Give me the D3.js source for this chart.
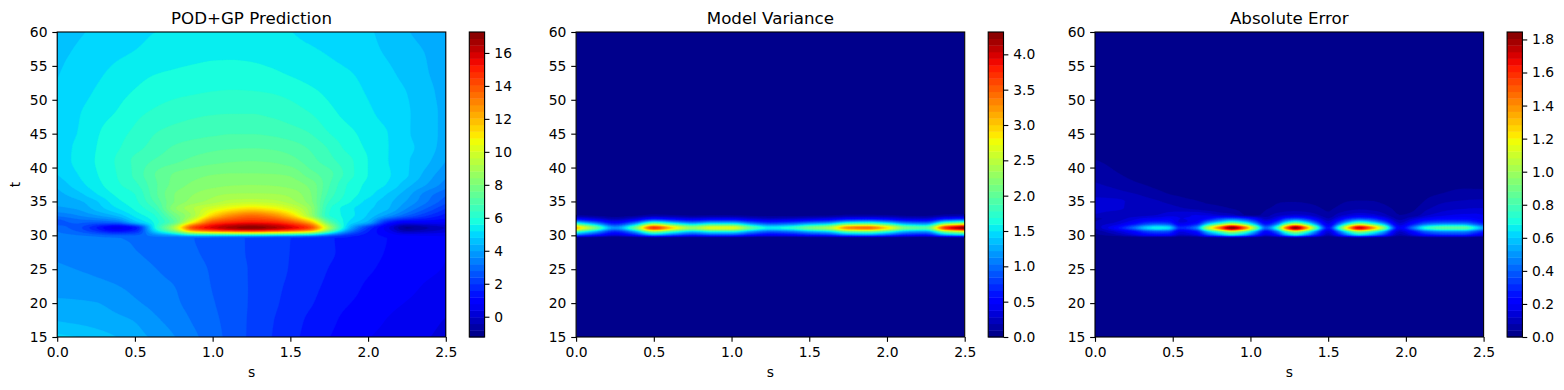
<!DOCTYPE html>
<html><head><meta charset="utf-8">
<script src="https://cdn.jsdelivr.net/npm/d3@7"></script>
<style>
html,body{margin:0;padding:0;background:#fff}
svg{display:block}
text{font-family:"DejaVu Sans",sans-serif;fill:#000}
</style></head><body><div id="chart"></div>
<script>
const titles = ["POD+GP Prediction", "Model Variance", "Absolute Error"];
const xTicks = [0, 0.5, 1, 1.5, 2, 2.5];
const yTicks = [15, 20, 25, 30, 35, 40, 45, 50, 55, 60];
const predBarTicks = [0, 2, 4, 6, 8, 10, 12, 14, 16];
const varBarTicks = [0, 0.5, 1, 1.5, 2, 2.5, 3, 3.5, 4];
const errBarTicks = [0, 0.2, 0.4, 0.6, 0.8, 1, 1.2, 1.4, 1.6, 1.8];
const predRange = [-1.23, 17.27];
const varRange = [0, 4.316];
const errRange = [0, 1.845];

const sGrid = [0,.125,.25,.375,.5,.625,.75,.875,1,1.125,1.25,1.375,1.5,1.625,1.75,1.875,2,2.125,2.25,2.375,2.5];
const errS = [0,.12,.25,.33,.4,.47,.55,.65,.72,.8,.88,.96,1.03,1.1,1.17,1.23,1.29,1.36,1.42,1.5,1.57,1.63,1.7,1.78,1.85,1.96,2.05,2.13,2.25,2.37,2.45,2.5];

const predT = [15,17.5,20,22.5,25,27.5,29.6,31.1,32,33,34,35,36,37.5,39,41,43,45,48,51,54,57,60];
const predZ = [
[4.9,4.8,4.6,4.41,4.17,3.91,3.62,3.29,2.96,2.63,2.3,2,1.71,1.45,1.19,1,.8,.66,.53,.4,.3],
[4.37,4.3,4.22,4.11,3.97,3.68,3.43,3.15,2.88,2.63,2.31,2.03,1.77,1.51,1.29,1.06,.94,.76,.6,.48,.36],
[4.07,4.05,4.01,3.86,3.66,3.47,3.27,3.05,2.82,2.59,2.34,2.09,1.85,1.63,1.41,1.2,1.06,.9,.76,.65,.52],
[3.85,3.8,3.72,3.62,3.48,3.33,3.2,3,2.77,2.56,2.35,2.12,1.91,1.7,1.5,1.31,1.13,1,.88,.74,.6],
[3.67,3.59,3.51,3.42,3.32,3.21,3.07,2.93,2.74,2.55,2.35,2.17,1.96,1.76,1.57,1.38,1.23,1.1,.98,.87,.75],
[3.5,3.44,3.37,3.3,3.21,3.11,3,2.84,2.68,2.51,2.33,2.15,1.98,1.78,1.64,1.46,1.29,1.16,1.04,.92,.8],
[3.4,3.36,3.3,3.22,3.13,3.05,2.93,2.8,2.65,2.5,2.33,2.15,1.99,1.8,1.63,1.47,1.32,1.18,1.06,.95,.85],
[3,2.6,1.6,.6,1.3,5.5,9,14.3,15.8,16.7,17.2,16.7,15.8,14.3,9,4.5,2,.5,-.9,-.5,0],
[2.6,2.9,2.9,3.1,4.6,5.7,7.2,10.6,13.8,14.6,14.9,14.7,13.8,11.8,7.2,5.2,4.3,1.8,.9,.9,.85],
[3.3,3.6,4,4.5,5.35,6,7.7,9,11.3,12.7,13.3,12.8,11.4,8.8,6,5.4,4.75,3.9,2.9,2.1,1.45],
[3.9,4.05,4.55,5.15,5.7,6.45,8.3,9.2,10,10.7,11.1,10.75,9.9,8.6,6.1,5.35,4.9,4.45,3.6,2.8,2],
[4.12,4.3,4.75,5.45,5.9,6.85,8,8.6,9,9.4,9.5,9.4,9,8.2,6.4,5.7,5.05,4.55,3.95,3.25,2.55],
[4.25,4.6,5.15,5.65,6,7.05,8,8.42,8.72,8.88,8.9,8.88,8.72,8.1,6.65,5.85,5.35,4.75,4.15,3.4,2.85],
[4.5,5,5.45,5.9,6.3,7.1,7.75,8.1,8.27,8.37,8.4,8.37,8.25,7.9,6.85,5.95,5.5,5.17,4.55,4,3.4],
[4.8,5.18,5.57,5.98,6.5,7.2,7.65,7.87,8,8.05,8.05,8.03,7.95,7.4,6.95,6.2,5.6,5.27,4.85,4.25,3.7],
[4.95,5.3,5.63,6.03,6.5,6.85,7.1,7.33,7.48,7.57,7.6,7.56,7.38,7,6.55,6.13,5.6,5.22,4.85,4.5,4],
[5,5.27,5.6,5.92,6.25,6.57,6.85,7,7.1,7.16,7.18,7.14,7.02,6.75,6.35,5.85,5.53,5.22,4.92,4.6,4.2],
[5.03,5.2,5.55,5.85,6.1,6.4,6.58,6.68,6.75,6.8,6.8,6.75,6.62,6.42,6.02,5.72,5.45,5.21,4.86,4.55,4.3],
[4.95,5.15,5.42,5.62,5.9,6.08,6.22,6.32,6.38,6.4,6.4,6.33,6.2,6.02,5.72,5.47,5.28,5.05,4.85,4.55,4.3],
[4.87,5.03,5.25,5.45,5.65,5.82,5.92,5.98,6.03,6.05,6.04,6,5.9,5.72,5.52,5.36,5.17,4.98,4.8,4.52,4.25],
[4.77,4.97,5.12,5.3,5.45,5.58,5.65,5.72,5.77,5.8,5.77,5.68,5.55,5.43,5.33,5.23,5.07,4.88,4.67,4.43,4.2],
[4.68,4.85,4.98,5.12,5.22,5.32,5.4,5.45,5.5,5.5,5.47,5.4,5.3,5.26,5.17,5.05,4.92,4.75,4.55,4.38,4.18],
[4.58,4.74,4.87,5,5.1,5.2,5.24,5.27,5.3,5.3,5.28,5.25,5.21,5.12,5,4.93,4.85,4.65,4.43,4.25,4.08]
];

const varT = [15,29.6,30.1,30.6,31.1,31.6,32,32.5,33,33.6,60];
const varZ = [
[0,0,0,0,0,0,0,0,0,0,0,0,0,0,0,0,0,0,0,0,0],
[0,0,0,0,0,0,0,0,0,0,0,0,0,0,0,0,0,0,0,0,0],
[1.02,.69,.38,.66,1.22,.96,.76,.89,.89,.66,.51,.56,.69,.79,1.09,1.14,.96,.69,.64,1.22,1.42],
[1.92,1.3,.71,1.24,2.29,1.8,1.43,1.67,1.67,1.24,.96,1.05,1.3,1.49,2.05,2.14,1.8,1.3,1.21,2.29,2.67],
[3.1,2.1,1.15,2,3.7,2.9,2.3,2.7,2.7,2,1.55,1.7,2.1,2.4,3.3,3.45,2.9,2.1,1.95,3.7,4.3],
[2.02,1.37,.75,1.3,2.41,1.89,1.5,1.76,1.76,1.3,1.01,1.11,1.37,1.56,2.15,2.24,1.89,1.37,1.27,2.41,2.8],
[1.18,.8,.44,.76,1.41,1.1,.87,1.03,1.03,.76,.59,.65,.8,.91,1.25,1.31,1.1,.8,.74,1.41,1.63],
[.43,.29,.16,.28,.52,.41,.32,.38,.38,.28,.22,.24,.29,.34,.46,.48,.41,.29,.27,.52,.6],
[.09,.06,.03,.06,.11,.09,.07,.08,.08,.06,.05,.05,.06,.07,.1,.1,.09,.06,.06,.11,.13],
[.02,.02,.01,.02,.02,.02,.02,.02,.02,.02,.01,.01,.02,.02,.02,.02,.02,.02,.02,.02,.03],
[0,0,0,0,0,0,0,0,0,0,0,0,0,0,0,0,0,0,0,0,0]
];

const errT = [15,29.6,30.1,30.6,31.1,31.6,32,32.5,33,34,35,36,37.5,39,41,43,60];
const errZ = [
[0,0,0,0,0,0,0,0,0,0,0,0,0,0,0,0,0,0,0,0,0,0,0,0,0,0,0,0,0,0,0,0],
[0,0,0,0,0,0,0,0,0,0,0,0,0,0,0,0,0,0,0,0,0,0,0,0,0,0,0,0,0,0,0,0],
[.03,.07,.15,.22,.24,.23,.11,.16,.36,.52,.66,.54,.34,.15,.27,.52,.66,.5,.31,.09,.27,.47,.62,.51,.36,.07,.16,.26,.31,.31,.23,.18],
[.05,.12,.24,.35,.39,.37,.17,.26,.58,.84,1.07,.87,.55,.24,.44,.84,1.06,.81,.49,.15,.44,.75,1,.82,.58,.12,.26,.42,.49,.49,.38,.29],
[.08,.2,.42,.6,.68,.64,.3,.45,1,1.45,1.84,1.5,.95,.42,.75,1.45,1.82,1.4,.85,.25,.75,1.3,1.72,1.42,1,.2,.45,.72,.85,.85,.65,.5],
[.1,.14,.27,.38,.43,.4,.2,.29,.62,.89,1.12,.92,.59,.27,.47,.89,1.11,.86,.53,.17,.47,.8,1.05,.87,.62,.14,.29,.45,.53,.53,.41,.32],
[.08,.11,.19,.26,.28,.27,.15,.2,.4,.56,.7,.58,.38,.18,.31,.56,.69,.54,.34,.13,.31,.5,.66,.55,.38,.1,.2,.3,.34,.34,.28,.22],
[.075,.09,.14,.17,.18,.2,.16,.17,.22,.32,.36,.3,.2,.1,.17,.3,.34,.28,.18,.08,.17,.28,.33,.3,.2,.06,.12,.18,.22,.22,.2,.18],
[.115,.095,.1,.11,.12,.14,.15,.16,.15,.12,.1,.04,.03,.06,.1,.12,.13,.12,.09,.05,.1,.13,.16,.14,.1,.04,.05,.11,.15,.17,.17,.16],
[.14,.13,.11,.1,.1,.1,.085,.065,.055,.048,.038,.028,.02,.035,.05,.06,.06,.055,.048,.032,.05,.065,.07,.065,.055,.03,.035,.07,.105,.115,.12,.12],
[.135,.13,.11,.095,.085,.07,.055,.043,.035,.03,.022,.012,.005,.02,.035,.038,.038,.035,.03,.012,.03,.04,.043,.042,.033,.012,.018,.045,.075,.085,.09,.09],
[.11,.1,.085,.07,.055,.042,.035,.025,.02,.015,.01,.005,.002,.005,.01,.012,.012,.01,.008,.002,.008,.015,.018,.015,.01,.002,.005,.03,.045,.055,.055,.055],
[.085,.07,.047,.038,.03,.025,.02,.012,.01,.005,.002,0,0,0,0,0,0,0,0,0,0,0,0,0,0,0,0,.01,.025,.03,.03,.03],
[.065,.046,.03,.024,.02,.015,.01,.005,.002,0,0,0,0,0,0,0,0,0,0,0,0,0,0,0,0,0,0,0,0,0,0,0],
[.042,.03,.018,.012,.008,.005,.002,0,0,0,0,0,0,0,0,0,0,0,0,0,0,0,0,0,0,0,0,0,0,0,0,0],
[.02,.012,.006,.003,0,0,0,0,0,0,0,0,0,0,0,0,0,0,0,0,0,0,0,0,0,0,0,0,0,0,0,0],
[0,0,0,0,0,0,0,0,0,0,0,0,0,0,0,0,0,0,0,0,0,0,0,0,0,0,0,0,0,0,0,0]
];

const BANDS = 46, FINE = 6;
const W = 1564, H = 390, TOP = 32, BOTTOM = 337, AW = 388.6, CW = 15.3;
const axLeft = [57.2, 576.1, 1095];
const barLeft = [469.3, 988.2, 1507.1];
const FS = 13.89, TS = 16.67, TICK = 4.86, LW = 1.11;

const jetR = d3.scaleLinear().domain([0,.35,.66,.89,1]).range([0,0,1,1,.5]).clamp(true);
const jetG = d3.scaleLinear().domain([0,.125,.375,.64,.91,1]).range([0,0,1,1,0,0]).clamp(true);
const jetB = d3.scaleLinear().domain([0,.11,.34,.65,1]).range([.5,1,1,0,0]).clamp(true);
const jet = n => d3.rgb(jetR(n)*255, jetG(n)*255, jetB(n)*255).formatHex();

// Rendering helper: a smooth monotone curve through one row or column of the read values.
function monotone(xs, ys, outX) {
  const n = xs.length, h = [], d = [], m = new Array(n);
  for (let i = 0; i < n - 1; i++) { h[i] = xs[i+1]-xs[i]; d[i] = (ys[i+1]-ys[i])/h[i]; }
  m[0] = d[0]; m[n-1] = d[n-2];
  for (let i = 1; i < n - 1; i++) {
    if (d[i-1]*d[i] <= 0) m[i] = 0;
    else { const a = 2*h[i]+h[i-1], b = h[i]+2*h[i-1]; m[i] = (a+b)/(a/d[i-1]+b/d[i]); }
  }
  const bis = d3.bisector(v => v).right;
  return outX.map(x => {
    const i = Math.min(n-2, Math.max(0, bis(xs, x)-1));
    const u = (x-xs[i])/h[i], u2 = u*u, u3 = u2*u;
    return (2*u3-3*u2+1)*ys[i] + (u3-2*u2+u)*h[i]*m[i] + (-2*u3+3*u2)*ys[i+1] + (u3-u2)*h[i]*m[i+1];
  });
}
function refine(v) {
  const out = [];
  for (let i = 0; i < v.length - 1; i++) for (let k = 0; k < FINE; k++) out.push(v[i] + (v[i+1]-v[i])*k/FINE);
  out.push(v[v.length-1]);
  return out;
}

const svg = d3.select("#chart").append("svg").attr("width", W).attr("height", H);
const defs = svg.append("defs");

const panels = [
  {z: predZ, s: sGrid, t: predT, range: predRange, barTicks: predBarTicks, fmt: d3.format("d")},
  {z: varZ, s: sGrid, t: varT, range: varRange, barTicks: varBarTicks, fmt: d3.format(".1f")},
  {z: errZ, s: errS, t: errT, range: errRange, barTicks: errBarTicks, fmt: d3.format(".1f")}
];

function styleAxis(g) {
  g.select(".domain").remove();
  g.selectAll(".tick line").attr("stroke", "#000").attr("stroke-width", LW);
  g.selectAll(".tick text").attr("fill", "#000").style("font-size", FS + "px").style("font-family", '"DejaVu Sans"');
}

panels.forEach((p, k) => {
  const x0 = axLeft[k];
  const x = d3.scaleLinear().domain([0, 2.5]).range([x0, x0 + AW]);
  const y = d3.scaleLinear().domain([15, 60]).range([BOTTOM, TOP]);
  const levels = d3.range(BANDS + 1).map(i => p.range[0] + i * (p.range[1] - p.range[0]) / BANDS);
  const color = i => jet((i + 0.5) / BANDS);

  const fs = refine(p.s), ft = refine(p.t);
  const cols = p.s.map((_, j) => monotone(p.t, p.z.map(r => r[j]), ft));
  const fineRows = ft.map((_, i) => monotone(p.s, cols.map(c => c[i]), fs));
  const n = fs.length, m = ft.length;
  const ix = d3.scaleLinear().domain(d3.range(n).map(i => i + .5)).range(fs).clamp(true);
  const iy = d3.scaleLinear().domain(d3.range(m).map(i => i + .5)).range(ft).clamp(true);
  const path = d3.geoPath(d3.geoTransform({
    point(a, b) { this.stream.point(x(ix(a)), y(iy(b))); }
  }));

  const id = "clip" + k;
  defs.append("clipPath").attr("id", id).append("rect")
    .attr("x", x0).attr("y", TOP).attr("width", AW).attr("height", BOTTOM - TOP);

  const g = svg.append("g").attr("clip-path", `url(#${id})`);
  g.append("rect").attr("x", x0).attr("y", TOP).attr("width", AW).attr("height", BOTTOM - TOP).attr("fill", color(0));
  const contours = d3.contours().size([n, m]).thresholds(levels.slice(1, BANDS))(fineRows.flat());
  g.selectAll("path").data(contours).join("path")
    .attr("d", path)
    .attr("fill", (d, i) => color(i + 1))
    .attr("stroke", (d, i) => color(i + 1))
    .attr("stroke-width", 0.3);

  svg.append("g").attr("transform", `translate(0,${BOTTOM})`)
    .call(d3.axisBottom(x).tickValues(xTicks).tickFormat(d3.format(".1f")).tickSize(TICK).tickPadding(4.86))
    .call(styleAxis);
  svg.append("g").attr("transform", `translate(${x0},0)`)
    .call(d3.axisLeft(y).tickValues(yTicks).tickFormat(d3.format("d")).tickSize(TICK).tickPadding(4.86))
    .call(styleAxis);
  svg.append("rect").attr("x", x0).attr("y", TOP).attr("width", AW).attr("height", BOTTOM - TOP)
    .attr("fill", "none").attr("stroke", "#000").attr("stroke-width", LW);

  svg.append("text").attr("x", x0 + AW / 2).attr("y", 24).attr("text-anchor", "middle")
    .style("font-size", TS + "px").text(titles[k]);
  svg.append("text").attr("x", x0 + AW / 2).attr("y", 377).attr("text-anchor", "middle")
    .style("font-size", FS + "px").text("s");
  if (k === 0) {
    svg.append("text").attr("transform", "translate(20,184.5) rotate(-90)").attr("text-anchor", "middle")
      .style("font-size", FS + "px").text("t");
  }

  const bx = barLeft[k];
  const by = d3.scaleLinear().domain(p.range).range([BOTTOM, TOP]);
  svg.append("g").selectAll("rect").data(d3.range(BANDS)).join("rect")
    .attr("x", bx).attr("width", CW)
    .attr("y", i => by(levels[i + 1]))
    .attr("height", i => by(levels[i]) - by(levels[i + 1]) + 0.4)
    .attr("fill", color);
  svg.append("g").attr("transform", `translate(${bx + CW},0)`)
    .call(d3.axisRight(by).tickValues(p.barTicks).tickFormat(p.fmt).tickSize(TICK).tickPadding(4.86))
    .call(styleAxis);
  svg.append("rect").attr("x", bx).attr("y", TOP).attr("width", CW).attr("height", BOTTOM - TOP)
    .attr("fill", "none").attr("stroke", "#000").attr("stroke-width", LW);
});
</script></body></html>
